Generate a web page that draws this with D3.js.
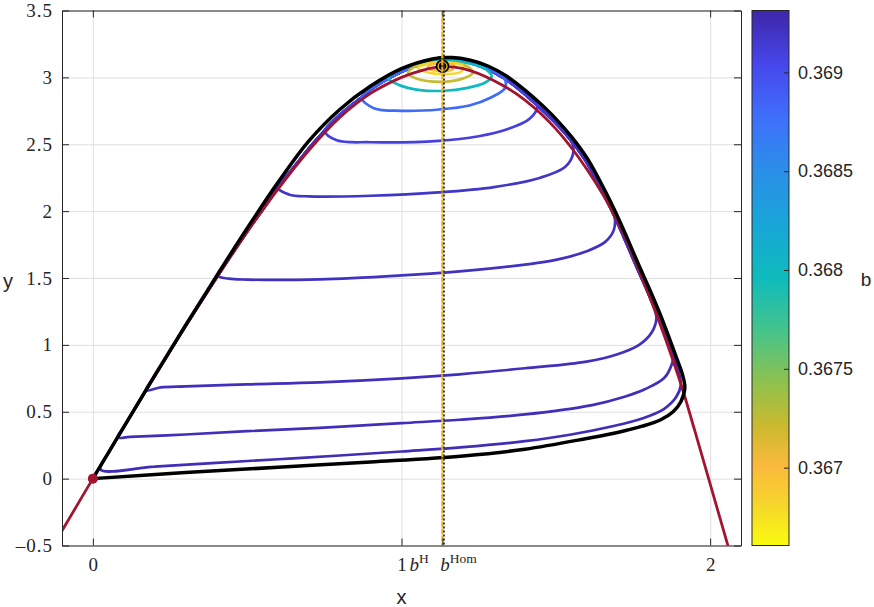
<!DOCTYPE html>
<html><head><meta charset="utf-8">
<script src="https://cdn.jsdelivr.net/npm/d3@7"></script>
<style>body{margin:0;background:#fff}</style>
</head><body>
<svg id="chart" width="874" height="607"></svg>
<script>
// ---------- data ----------
const xDomain = [-0.1, 2.1];
const yDomain = [-0.5, 3.5];
const xTicks = [0, 1, 2];
const xTickLabels = ["0", "1", "2"];
const yTicks = [-0.5, 0, 0.5, 1, 1.5, 2, 2.5, 3, 3.5];
const yTickLabels = ["\u20130.5", "0", "0.5", "1", "1.5", "2", "2.5", "3", "3.5"];
const specialLabelPos = [1.057, 1.185];
const specialLabelSup = ["H", "Hom"];
const bLineH = 1.1325;
const bLineHom = 1.1375;
const equilibrium = [1.133, 3.083];
const originPoint = [0, 0];
const cbDomain = [0.366606, 0.369313];
const cbTicks = [0.367, 0.3675, 0.368, 0.3685, 0.369];
const cbTickLabels = ["0.367", "0.3675", "0.368", "0.3685", "0.369"];

// prey nullcline (red)
const nullcline = [[-0.1,-0.39],[0,0],[0.1,0.385],[0.2,0.765],[0.3,1.14],[0.4,1.50],[0.5,1.845],[0.6,2.165],
  [0.7,2.455],[0.8,2.70],[0.9,2.88],[1.0,3.0],[1.07,3.055],[1.133,3.08],[1.2,3.065],[1.3,2.975],[1.4,2.83],
  [1.5,2.615],[1.6,2.315],[1.7,1.925],[1.8,1.385],[1.9,0.745],[1.95,0.36],[2.0,-0.04],[2.06,-0.52]];

// homoclinic orbit (black)
const homoclinic = [[0,0],[0.3,0.045],[0.6,0.085],[0.9,0.125],[1.2,0.17],[1.4,0.22],[1.6,0.30],[1.7,0.345],
  [1.78,0.392],[1.84,0.44],[1.88,0.5],[1.905,0.575],[1.918,0.68],[1.91,0.78],[1.89,0.91],[1.866,1.06],
  [1.836,1.24],[1.803,1.42],[1.772,1.58],[1.731,1.80],[1.70,1.96],[1.662,2.14],[1.603,2.39],[1.553,2.55],
  [1.5,2.69],[1.447,2.81],[1.4,2.905],[1.34,3.01],[1.28,3.085],[1.22,3.13],[1.165,3.148],[1.1,3.138],
  [1.0,3.065],[0.9,2.935],[0.8,2.76],[0.7,2.525],[0.6,2.215],[0.5,1.872],[0.4,1.512],[0.3,1.145],
  [0.2,0.77],[0.1,0.385],[0,0]];

// shared upper part of the large periodic orbits (right side -> top -> left side)
const orbitUpper = [[1.905,0.70],[1.898,0.80],[1.88,0.92],[1.856,1.07],[1.826,1.24],[1.793,1.42],
  [1.762,1.58],[1.721,1.80],[1.69,1.96],[1.652,2.14],[1.594,2.385],[1.545,2.54],[1.492,2.675],
  [1.44,2.79],[1.392,2.89],[1.333,2.993],[1.275,3.065],[1.22,3.11],[1.165,3.128],[1.1,3.118],
  [1.04,3.08],[0.98,3.02],[0.92,2.94],[0.87,2.85],[0.8,2.72],[0.75,2.6],[0.7,2.47],
  [0.65,2.325],[0.6,2.175],[0.55,2.01],[0.5,1.848],[0.45,1.675],[0.4,1.50],[0.35,1.32],[0.3,1.14],
  [0.25,0.953],[0.2,0.765],[0.15,0.575],[0.1,0.385],[0.05,0.192]];

// lower arcs of the large periodic orbits (left start on the nullcline -> right turn)
const largeOrbitB = [0.36925, 0.36924, 0.36923, 0.36921, 0.36918, 0.36910, 0.36880];
const largeOrbitLower = [
  [[0.025,0.068],[0.2,0.09],[0.4,0.118],[0.6,0.145],[0.8,0.173],[1.0,0.203],[1.2,0.235],[1.4,0.28],
   [1.55,0.33],[1.68,0.39],[1.78,0.45],[1.85,0.52],[1.89,0.61],[1.905,0.70]],
  [[0.08,0.308],[0.12,0.312],[0.3,0.33],[0.5,0.355],[0.735,0.38],[1.0,0.415],[1.188,0.44],[1.4,0.48],
   [1.618,0.55],[1.72,0.61],[1.79,0.67],[1.85,0.75],[1.875,0.85],[1.88,0.92]],
  [[0.172,0.66],[0.22,0.682],[0.3,0.69],[0.5,0.705],[0.735,0.72],[1.0,0.75],[1.188,0.78],[1.4,0.825],
   [1.6,0.875],[1.7,0.93],[1.77,1.0],[1.81,1.09],[1.826,1.2],[1.818,1.28]],
  [[0.405,1.518],[0.44,1.495],[0.5,1.488],[0.735,1.49],[1.0,1.52],[1.188,1.55],[1.4,1.60],[1.5,1.635],
   [1.6,1.70],[1.66,1.77],[1.688,1.86],[1.69,1.96]],
  [[0.6,2.175],[0.635,2.125],[0.7,2.11],[0.9,2.115],[1.12,2.14],[1.3,2.18],[1.45,2.25],[1.53,2.33],
   [1.555,2.42],[1.553,2.51]],
  [[0.752,2.6],[0.79,2.53],[0.9,2.515],[1.12,2.525],[1.25,2.56],[1.34,2.61],[1.415,2.69],[1.44,2.79]],
  [[0.87,2.85],[0.91,2.77],[1.0,2.75],[1.123,2.76],[1.22,2.79],[1.29,2.85],[1.335,2.92],[1.333,2.993]]
];

// small periodic orbits near the equilibrium (closed loops)
const smallOrbitB = [0.36800, 0.36722, 0.36680, 0.36700];
const smallOrbits = [
  [[0.957,2.995],[0.99,2.945],[1.06,2.905],[1.14,2.9],[1.21,2.92],[1.27,2.96],[1.292,3.005],[1.27,3.065],
   [1.22,3.105],[1.15,3.125],[1.07,3.11],[1.0,3.065]],
  [[1.021,3.03],[1.05,2.99],[1.124,2.967],[1.19,2.985],[1.231,3.035],[1.21,3.085],[1.15,3.112],
   [1.08,3.1],[1.035,3.07]],
  [[1.053,3.07],[1.09,3.035],[1.15,3.025],[1.195,3.045],[1.199,3.085],[1.15,3.11],[1.09,3.105]],
  [[1.085,3.07],[1.12,3.05],[1.165,3.06],[1.17,3.09],[1.13,3.105],[1.095,3.095]]
];

// reversed-parula colour stops (t = 0 at top of colour bar)
const cmapT = [0, 0.1, 0.2, 0.3, 0.4, 0.5, 0.6, 0.7, 0.78, 0.85, 0.92, 1.0];
const cmapC = ["#3e26a8","#4746eb","#3f6ffc","#2b8fe8","#18a6d8","#0fbbbc","#45c48a","#92c14a",
               "#cdb92f","#fbb93e","#f5d42c","#f9fb0e"];

// ---------- layout ----------
const L = 62, R = 741, T = 10.5, B = 545.5;
const cbL = 752, cbR = 789;
const svg = d3.select("#chart");
const x = d3.scaleLinear().domain(xDomain).range([L, R]);
const y = d3.scaleLinear().domain(yDomain).range([B, T]);
const cbScale = d3.scaleLinear().domain(cbDomain).range([B, T]);
const cmap = d3.scaleLinear().domain(cmapT).range(cmapC).interpolate(d3.interpolateRgb).clamp(true);
const colorOf = b => cmap((cbDomain[1] - b) / (cbDomain[1] - cbDomain[0]));

const axisColor = "#262626";
const serif = "'Liberation Serif', 'Times New Roman', serif";
const sans = "'Liberation Sans', Arial, Helvetica, sans-serif";

svg.append("rect").attr("x", L).attr("y", T).attr("width", R - L).attr("height", B - T).attr("fill", "#fff");

// grid
const gridX = svg.append("g").attr("transform", `translate(0,${B})`)
  .call(d3.axisBottom(x).tickValues(xTicks).tickSize(-(B - T)).tickFormat(""));
const gridY = svg.append("g").attr("transform", `translate(${L},0)`)
  .call(d3.axisLeft(y).tickValues(yTicks).tickSize(-(R - L)).tickFormat(""));
[gridX, gridY].forEach(g => {
  g.select(".domain").remove();
  g.selectAll("line").attr("stroke", "#dfdfdf").attr("stroke-width", 1);
});

// clip
svg.append("clipPath").attr("id", "plotclip").append("rect")
  .attr("x", L).attr("y", T).attr("width", R - L).attr("height", B - T);
const plot = svg.append("g").attr("clip-path", "url(#plotclip)");

const lineOpen = d3.line().x(d => x(d[0])).y(d => y(d[1])).curve(d3.curveCatmullRom.alpha(0.5));
const lineClosed = d3.line().x(d => x(d[0])).y(d => y(d[1])).curve(d3.curveCatmullRomClosed.alpha(0.5));

// large orbits
const peakX = 1.165;
largeOrbitLower.forEach((lower, i) => {
  const first = lower[0], last = lower[lower.length - 1];
  const upper = orbitUpper.filter(p => p[0] >= peakX ? p[1] > last[1] + 0.04 : p[1] > first[1] + 0.04);
  plot.append("path").attr("d", lineClosed(lower.concat(upper)))
    .attr("fill", "none").attr("stroke", colorOf(largeOrbitB[i])).attr("stroke-width", 2.7)
    .attr("stroke-linejoin", "round");
});
// small orbits
smallOrbits.forEach((pts, i) => {
  plot.append("path").attr("d", lineClosed(pts))
    .attr("fill", "none").attr("stroke", colorOf(smallOrbitB[i])).attr("stroke-width", 2.7);
});
// nullcline
plot.append("path").attr("d", lineOpen(nullcline))
  .attr("fill", "none").attr("stroke", "#a2142f").attr("stroke-width", 2.8);
// homoclinic
plot.append("path").attr("d", lineOpen(homoclinic))
  .attr("fill", "none").attr("stroke", "#000").attr("stroke-width", 3.5).attr("stroke-linejoin", "round");

// equilibrium marker
plot.append("circle").attr("cx", x(equilibrium[0])).attr("cy", y(equilibrium[1])).attr("r", 6.8).attr("fill", "#000");
plot.append("circle").attr("cx", x(equilibrium[0])).attr("cy", y(equilibrium[1])).attr("r", 4.4)
  .attr("fill", "none").attr("stroke", "#e9b21f").attr("stroke-width", 1.4);
// origin marker
plot.append("circle").attr("cx", x(originPoint[0])).attr("cy", y(originPoint[1])).attr("r", 5).attr("fill", "#a2142f");

// vertical lines
plot.append("line").attr("x1", x(bLineH)).attr("x2", x(bLineH)).attr("y1", T).attr("y2", B)
  .attr("stroke", "#edb120").attr("stroke-width", 2.3).attr("stroke-dasharray", "6,1");
plot.append("line").attr("x1", x(bLineHom)).attr("x2", x(bLineHom)).attr("y1", T).attr("y2", B)
  .attr("stroke", "#3a3a3a").attr("stroke-width", 2).attr("stroke-dasharray", "2,2");

// axes (ticks inward, box)
function styleAxis(g) {
  g.select(".domain").attr("stroke", axisColor).attr("stroke-width", 1);
  g.selectAll(".tick line").attr("stroke", axisColor).attr("stroke-width", 1);
  g.selectAll("text").attr("fill", axisColor);
}
const xTickAll = [0, 1, bLineH, 2];
const axB = svg.append("g").attr("transform", `translate(0,${B})`)
  .call(d3.axisBottom(x).tickValues(xTickAll).tickSizeInner(-7).tickSizeOuter(0).tickPadding(12)
    .tickFormat(d => { const i = xTicks.indexOf(d); return i >= 0 ? xTickLabels[i] : ""; }));
axB.selectAll("text").attr("font-family", serif).attr("font-size", 19);
styleAxis(axB);
const axT = svg.append("g").attr("transform", `translate(0,${T})`)
  .call(d3.axisTop(x).tickValues(xTickAll).tickSizeInner(-7).tickSizeOuter(0).tickFormat(""));
styleAxis(axT);
const axL = svg.append("g").attr("transform", `translate(${L},0)`)
  .call(d3.axisLeft(y).tickValues(yTicks).tickSizeInner(-7).tickSizeOuter(0).tickPadding(9)
    .tickFormat((d, i) => yTickLabels[i]));
axL.selectAll("text").attr("font-family", serif).attr("font-size", 19).attr("letter-spacing", 1);
styleAxis(axL);
const axR = svg.append("g").attr("transform", `translate(${R},0)`)
  .call(d3.axisRight(y).tickValues(yTicks).tickSizeInner(-7).tickSizeOuter(0).tickFormat(""));
styleAxis(axR);

// special latex-like tick labels
specialLabelPos.forEach((v, i) => {
  const t = svg.append("text").attr("x", x(v)).attr("y", 571).attr("text-anchor", "middle")
    .attr("font-family", serif).attr("font-size", 19).attr("fill", axisColor);
  t.append("tspan").attr("font-style", "italic").text("b");
  t.append("tspan").attr("dy", -8).attr("font-size", 13.5).text(specialLabelSup[i]);
});

// axis labels
svg.append("text").attr("x", x(1)).attr("y", 604).attr("text-anchor", "middle")
  .attr("font-family", sans).attr("font-size", 20).attr("fill", axisColor).text("x");
svg.append("text").attr("x", 8).attr("y", 288).attr("text-anchor", "middle")
  .attr("font-family", sans).attr("font-size", 20).attr("fill", axisColor).text("y");

// colour bar
const grad = svg.append("defs").append("linearGradient").attr("id", "cbgrad")
  .attr("x1", 0).attr("y1", 0).attr("x2", 0).attr("y2", 1);
cmapT.forEach((t, i) => grad.append("stop").attr("offset", t).attr("stop-color", cmapC[i]));
svg.append("rect").attr("x", cbL).attr("y", T).attr("width", cbR - cbL).attr("height", B - T)
  .attr("fill", "url(#cbgrad)").attr("stroke", axisColor).attr("stroke-width", 1);
const axCb = svg.append("g").attr("transform", `translate(${cbR},0)`)
  .call(d3.axisRight(cbScale).tickValues(cbTicks).tickSizeInner(-5).tickSizeOuter(0).tickPadding(9)
    .tickFormat((d, i) => cbTickLabels[i]));
axCb.select(".domain").remove();
axCb.selectAll(".tick line").attr("stroke", axisColor);
axCb.selectAll("text").attr("font-family", sans).attr("font-size", 18).attr("fill", axisColor);
svg.append("text").attr("x", 866).attr("y", 286).attr("text-anchor", "middle")
  .attr("font-family", sans).attr("font-size", 19).attr("fill", axisColor).text("b");
</script>
</body></html>
